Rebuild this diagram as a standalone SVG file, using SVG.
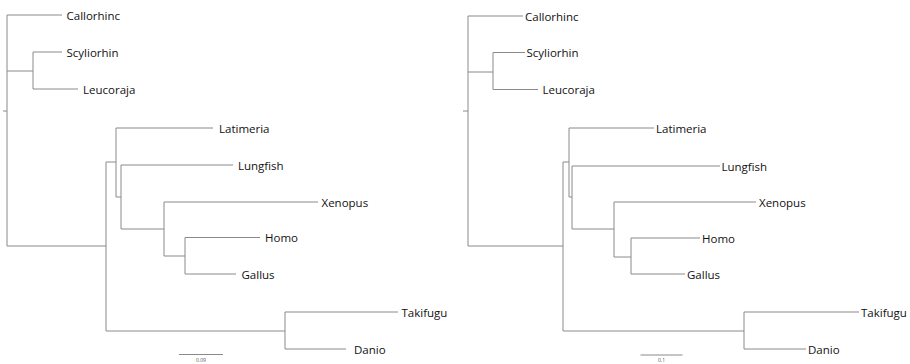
<svg xmlns="http://www.w3.org/2000/svg" width="910" height="364" viewBox="0 0 910 364">
<style>
.e{fill:none;stroke:#8a8a8a;stroke-width:1}
.t{font-family:"Open Sans","Liberation Sans",sans-serif;font-size:11.5px;fill:#111}
.s{font-family:"Open Sans","Liberation Sans",sans-serif;font-size:5px;fill:#555;text-anchor:middle}
</style>
<rect width="910" height="364" fill="#fff"/>
<g id="connectors">
<!-- left tree -->
<path class="e" d="M3,111H7 M7,15V246 M7,15H62 M7,71H33 M33,52V89 M33,52H62 M33,89H78
M7,246H106 M106,162V331 M106,162H116 M116,128V197 M116,128H213 M116,197H121 M121,165V229 M121,165H233
M121,229H164 M164,202V256 M164,202H318 M164,256H185 M185,237.5V274 M185,237.5H260 M185,274H236
M106,331H285 M285,312V349 M285,312H398 M285,349H346"/>
<!-- right tree -->
<path class="e" d="M463,111H468 M468,16V246 M468,16H523 M468,72H493 M493,52.5V89.5 M493,52.5H525 M493,89.5H538
M468,246H563 M563,162V331 M563,162H569 M569,128V197 M569,128H654 M569,197H572 M572,166V229 M572,166H720
M572,229H614 M614,202V257 M614,202H756 M614,257H631 M631,238V274 M631,238H700 M631,274H685
M563,331H744 M744,312V349 M744,312H859 M744,349H806"/>
<!-- scale bars -->
<path class="e" d="M179,354.5H223 M640.5,355H682.5"/>
</g>
<g id="left-tree">
<g id="L-Callorhinc"><text class="t" x="66.5" y="19.5">Callorhinc</text></g>
<g id="L-Scyliorhin"><text class="t" x="66.5" y="56.5">Scyliorhin</text></g>
<g id="L-Leucoraja"><text class="t" x="83" y="93.5">Leucoraja</text></g>
<g id="L-Latimeria"><text class="t" x="219" y="132.5">Latimeria</text></g>
<g id="L-Lungfish"><text class="t" x="238" y="169.5">Lungfish</text></g>
<g id="L-Xenopus"><text class="t" x="321.5" y="206.5">Xenopus</text></g>
<g id="L-Homo"><text class="t" x="265" y="242">Homo</text></g>
<g id="L-Gallus"><text class="t" x="241.5" y="278.5">Gallus</text></g>
<g id="L-Takifugu"><text class="t" x="401.5" y="316.5">Takifugu</text></g>
<g id="L-Danio"><text class="t" x="354" y="353.5">Danio</text></g>
<g id="L-scale"><text class="s" x="201" y="361.5">0.09</text></g>
</g>
<g id="right-tree">
<g id="R-Callorhinc"><text class="t" x="525" y="20.5">Callorhinc</text></g>
<g id="R-Scyliorhin"><text class="t" x="526.5" y="57">Scyliorhin</text></g>
<g id="R-Leucoraja"><text class="t" x="542.5" y="94">Leucoraja</text></g>
<g id="R-Latimeria"><text class="t" x="656" y="132.5">Latimeria</text></g>
<g id="R-Lungfish"><text class="t" x="721.5" y="170.5">Lungfish</text></g>
<g id="R-Xenopus"><text class="t" x="759" y="206.5">Xenopus</text></g>
<g id="R-Homo"><text class="t" x="702" y="242.5">Homo</text></g>
<g id="R-Gallus"><text class="t" x="687" y="278.5">Gallus</text></g>
<g id="R-Takifugu"><text class="t" x="861" y="316.5">Takifugu</text></g>
<g id="R-Danio"><text class="t" x="808" y="353.5">Danio</text></g>
<g id="R-scale"><text class="s" x="661.5" y="361.5">0.1</text></g>
</g>
</svg>
